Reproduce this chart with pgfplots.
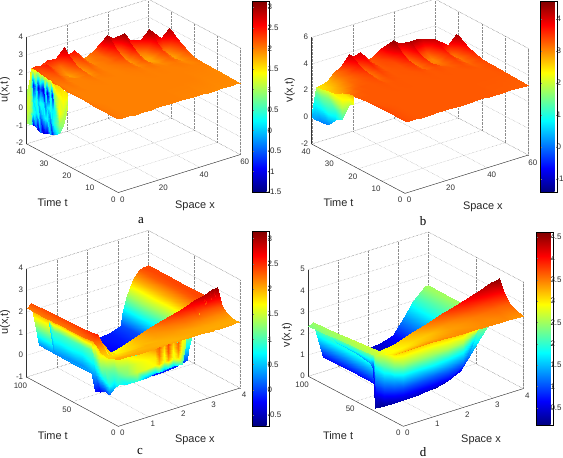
\documentclass[border=0pt]{standalone}
\usepackage{fontspec}
\setmainfont{Liberation Sans}
\newfontfamily\capfont{Liberation Serif}
\usepackage{pgfplots}
\pgfplotsset{compat=1.18}
\pgfplotsset{
 mat/.style={
  clip=false, colormap/jet,
  /pgf/number format/assume math mode=true,
  tick label style={font=\fontsize{8}{9}\selectfont,text=black!80},
  label style={font=\fontsize{11}{12}\selectfont,text=black!85},
  grid=major, grid style={densely dotted,black!45,line width=.35pt},
  axis line style={draw=none}, major tick style={draw=none},
  xlabel={Space x}, ylabel={Time t},
  xlabel style={at={(rel axis cs:.27,-.477,0)},anchor=center,rotate=0},
  ylabel style={at={(rel axis cs:-.433,.14,0)},anchor=center,rotate=0},
  zlabel style={at={(rel axis cs:-.178,1,.57)},anchor=center,rotate=0},
 },
 main/.style={surf,shader=interp,z buffer=sort,mesh/cols=#1},
 cur/.style={surf,shader=interp,mesh/cols=#1,point meta=\thisrowno{3}},
 cb/.style={colormap/jet,colorbar style={scale only axis,width=16.5bp,
   tick label style={font=\fontsize{8}{9}\selectfont,text=black!85},
   /pgf/number format/assume math mode=true,
   major tick length=1.5pt,tick align=inside,line width=.4pt,#1}},
}
\begin{document}
\begin{tikzpicture}
\path[use as bounding box] (0bp,0bp) rectangle (563bp,458bp);
% ---------- a
\begin{axis}[mat,anchor=origin,at={(118.3bp,301bp)},
 x={(2.033bp,.633bp)},y={(-2.292bp,1.217bp)},z={(0bp,17.78bp)},
 xmin=0,xmax=60,ymin=0,ymax=40,zmin=-2,zmax=4,
 xtick={0,20,40,60},ytick={0,10,...,40},ztick={-2,...,4},
 zlabel={u(x,t)},point meta min=-1.5,point meta max=3.3]
\draw[black!80] (axis cs:0,40,-2)--(axis cs:0,0,-2)--(axis cs:60,0,-2);
\draw[black!80] (axis cs:0,40,-2)--(axis cs:0,40,4);
\draw[densely dotted,black!45] (axis cs:0,40,4)--(axis cs:60,40,4)--(axis cs:60,0,4)--(axis cs:60,0,-2);
\addplot3[main=20] table[row sep=\\]{
0 0 2.15\\2 0 2.12\\5 0 2.1\\8 0 2.1\\12 0 2.1\\16 0 2.1\\18 0 2.1\\21 0 2.1\\25 0 2.1\\28 0 2.1\\31 0 2.1\\35 0 2.08\\38 0 2.08\\41 0 2.08\\44 0 2.06\\47 0 2.06\\51 0 2.05\\55 0 2.05\\59 0 2.05\\60 0 2.03\\
0 10 2.15\\2 10 2.12\\5 10 2.1\\8 10 2.1\\12 10 2.1\\16 10 2.1\\18 10 2.1\\21 10 2.1\\25 10 2.1\\28 10 2.1\\31 10 2.1\\35 10 2.1\\38 10 2.1\\41 10 2.1\\44 10 2.1\\47 10 2.1\\51 10 2.08\\55 10 2.08\\59 10 2.07\\60 10 2.05\\
0 16 2.15\\2 16 2.1\\5 16 2.1\\8 16 2.1\\12 16 2.1\\16 16 2.1\\18 16 2.1\\21 16 2.1\\25 16 2.1\\28 16 2.1\\31 16 2.1\\35 16 2.1\\38 16 2.1\\41 16 2.1\\44 16 2.1\\47 16 2.1\\51 16 2.1\\55 16 2.1\\59 16 2.11\\60 16 2.08\\
0 20 2.15\\2 20 2.1\\5 20 2.1\\8 20 2.1\\12 20 2.1\\16 20 2.1\\18 20 2.1\\21 20 2.1\\25 20 2.1\\28 20 2.1\\31 20 2.1\\35 20 2.11\\38 20 2.1\\41 20 2.11\\44 20 2.1\\47 20 2.1\\51 20 2.14\\55 20 2.05\\59 20 2.18\\60 20 2.14\\
0 23 2.15\\2 23 2.1\\5 23 2.12\\8 23 2.1\\12 23 2.1\\16 23 2.11\\18 23 2.1\\21 23 2.1\\25 23 2.1\\28 23 2.1\\31 23 2.11\\35 23 2.13\\38 23 2.1\\41 23 2.17\\44 23 2.1\\47 23 2.05\\51 23 2.25\\55 23 1.95\\59 23 2.3\\60 23 2.24\\
0 26 2.2\\2 26 2.12\\5 26 2.15\\8 26 2.1\\12 26 2.1\\16 26 2.15\\18 26 2.1\\21 26 2.13\\25 26 2.1\\28 26 2.1\\31 26 2.13\\35 26 2.2\\38 26 2.05\\41 26 2.3\\44 26 2\\47 26 1.95\\51 26 2.43\\55 26 1.9\\59 26 2.57\\60 26 2.48\\
0 28 2.2\\2 28 2.13\\5 28 2.19\\8 28 2.1\\12 28 2.1\\16 28 2.19\\18 28 2.05\\21 28 2.16\\25 28 2.1\\28 28 2.11\\31 28 2.15\\35 28 2.29\\38 28 1.95\\41 28 2.45\\44 28 1.9\\47 28 1.95\\51 28 2.65\\55 28 2\\59 28 2.82\\60 28 2.68\\
0 30 2.25\\2 30 2.16\\5 30 2.25\\8 30 2.12\\12 30 2\\16 30 2.26\\18 30 1.95\\21 30 2.2\\25 30 2.1\\28 30 2.12\\31 30 2.2\\35 30 2.45\\38 30 1.9\\41 30 2.7\\44 30 1.9\\47 30 2.1\\51 30 2.92\\55 30 2.7\\59 30 3.1\\60 30 2.9\\
0 32 2.3\\2 32 2.2\\5 32 2.34\\8 32 2.16\\12 32 1.95\\16 32 2.37\\18 32 1.9\\21 32 2.27\\25 32 2.1\\28 32 2.13\\31 32 2.2\\35 32 2.62\\38 32 1.95\\41 32 2.92\\44 32 2.1\\47 32 2.75\\51 32 3.2\\55 32 1.6\\59 32 1.6\\60 32 1.6\\
0 34 2.35\\2 34 2.26\\5 34 2.46\\8 34 2.22\\12 34 2.05\\16 34 2.52\\18 34 1.95\\21 34 2.36\\25 34 2.05\\28 34 2.15\\31 34 2.2\\35 34 2.88\\38 34 2.1\\41 34 3.2\\44 34 2.7\\47 34 1.6\\51 34 1.6\\55 34 1.6\\59 34 1.6\\60 34 1.6\\
0 36 2.4\\2 36 2.35\\5 36 2.6\\8 36 2.3\\12 36 2.2\\16 36 2.75\\18 36 2.1\\21 36 2.5\\25 36 2.05\\28 36 2.15\\31 36 2.25\\35 36 3.15\\38 36 2.9\\41 36 1.6\\44 36 1.6\\47 36 1.6\\51 36 1.6\\55 36 1.6\\59 36 1.6\\60 36 1.6\\
0 38 2.4\\2 38 2.45\\5 38 2.4\\8 38 2.58\\12 38 2.55\\16 38 3\\18 38 2.5\\21 38 2.65\\25 38 2\\28 38 2.15\\31 38 2.3\\35 38 1.6\\38 38 1.6\\41 38 1.6\\44 38 1.6\\47 38 1.6\\51 38 1.6\\55 38 1.6\\59 38 1.6\\60 38 1.6\\
};
\addplot3[cur=16] table[row sep=\\]{
0 22 2.1 1.7\\0 24 2.15 1.6\\0 26 2.2 1.7\\0 28 2.2 1.7\\0 29 2.2 1.5\\0 30 2.25 1.5\\0 31 2.25 1.3\\0 32 2.3 1.5\\0 33 2.3 1.2\\0 34 2.35 1.5\\0 35 2.4 1.2\\0 36 2.4 1.4\\0 37 2.4 1.6\\0 38 2.4 1.7\\0 39 1.5 1.3\\0 40 1.04 1.1\\
0 22 2 1.6\\0 24 1.5 1.5\\0 26 1.5 1.4\\0 28 1.5 .9\\0 29 1.5 -.8\\0 30 1.5 .3\\0 31 1.5 -1\\0 32 1.5 .2\\0 33 1.5 -1.1\\0 34 1.5 -.5\\0 35 1.5 -1\\0 36 1.5 .1\\0 37 1.5 -.8\\0 38 1.5 .8\\0 39 1.1 1.2\\0 40 .7 1.2\\
0 22 1.9 1.4\\0 24 .9 1.3\\0 26 .7 1.5\\0 28 .7 .3\\0 29 .7 .2\\0 30 .7 .4\\0 31 .7 .2\\0 32 .7 -.3\\0 33 .7 .3\\0 34 .7 .4\\0 35 .7 .1\\0 36 .7 .5\\0 37 .7 .2\\0 38 .7 1\\0 39 .5 1.3\\0 40 .2 1.3\\
0 22 1.7 1.2\\0 24 .5 1.1\\0 26 0 1\\0 28 0 .5\\0 29 0 .2\\0 30 0 -.3\\0 31 0 .3\\0 32 0 .3\\0 33 0 .1\\0 34 0 -.3\\0 35 0 .4\\0 36 0 .2\\0 37 0 .5\\0 38 0 1\\0 39 0 1.2\\0 40 -.3 1.2\\
0 22 1.5 1.4\\0 24 .1 1\\0 26 -.45 .6\\0 28 -.67 -.2\\0 29 -.7 -.8\\0 30 -.75 0\\0 31 -.8 -1\\0 32 -.85 -.9\\0 33 -.92 -1.2\\0 34 -.9 -.3\\0 35 -.85 -1.2\\0 36 -.8 -.4\\0 37 -.73 -1\\0 38 -.75 .7\\0 39 -.8 .9\\0 40 -.84 1.1\\
};
\end{axis}
% ---------- b
\begin{axis}[mat,anchor=origin,at={(405bp,291.3bp)},
 x={(2.056bp,.639bp)},y={(-2.333bp,1.233bp)},z={(0bp,13.33bp)},
 xmin=0,xmax=60,ymin=0,ymax=40,zmin=-2,zmax=6,
 xtick={0,20,40,60},ytick={0,10,...,40},ztick={-2,0,...,6},
 zlabel={v(x,t)},point meta min=-1.4,point meta max=4.56]
\draw[black!80] (axis cs:0,40,-2)--(axis cs:0,0,-2)--(axis cs:60,0,-2);
\draw[black!80] (axis cs:0,40,-2)--(axis cs:0,40,6);
\draw[densely dotted,black!45] (axis cs:0,40,6)--(axis cs:60,40,6)--(axis cs:60,0,6)--(axis cs:60,0,-2);
\addplot3[main=20] table[row sep=\\]{
0 0 3.4\\2 0 3.35\\5 0 3.32\\8 0 3.3\\12 0 3.3\\16 0 3.3\\18 0 3.3\\21 0 3.3\\25 0 3.3\\28 0 3.3\\31 0 3.3\\35 0 3.3\\38 0 3.3\\41 0 3.3\\44 0 3.3\\47 0 3.28\\51 0 3.28\\55 0 3.27\\59 0 3.26\\60 0 3.25\\
0 10 3.4\\2 10 3.35\\5 10 3.32\\8 10 3.3\\12 10 3.3\\16 10 3.3\\18 10 3.3\\21 10 3.3\\25 10 3.3\\28 10 3.3\\31 10 3.3\\35 10 3.3\\38 10 3.3\\41 10 3.3\\44 10 3.3\\47 10 3.3\\51 10 3.3\\55 10 3.3\\59 10 3.31\\60 10 3.3\\
0 16 3.35\\2 16 3.3\\5 16 3.3\\8 16 3.3\\12 16 3.3\\16 16 3.3\\18 16 3.3\\21 16 3.3\\25 16 3.3\\28 16 3.3\\31 16 3.3\\35 16 3.3\\38 16 3.3\\41 16 3.3\\44 16 3.3\\47 16 3.3\\51 16 3.3\\55 16 3.3\\59 16 3.36\\60 16 3.33\\
0 20 3.3\\2 20 3.3\\5 20 3.3\\8 20 3.3\\12 20 3.3\\16 20 3.31\\18 20 3.3\\21 20 3.31\\25 20 3.3\\28 20 3.3\\31 20 3.3\\35 20 3.31\\38 20 3.3\\41 20 3.31\\44 20 3.3\\47 20 3.3\\51 20 3.35\\55 20 3.25\\59 20 3.41\\60 20 3.39\\
0 23 3.2\\2 23 3.25\\5 23 3.3\\8 23 3.3\\12 23 3.3\\16 23 3.32\\18 23 3.3\\21 23 3.31\\25 23 3.3\\28 23 3.3\\31 23 3.31\\35 23 3.33\\38 23 3.3\\41 23 3.35\\44 23 3.3\\47 23 3.25\\51 23 3.42\\55 23 3.15\\59 23 3.55\\60 23 3.5\\
0 26 3\\2 26 3.1\\5 26 3.25\\8 26 3.3\\12 26 3.3\\16 26 3.35\\18 26 3.25\\21 26 3.34\\25 26 3.3\\28 26 3.31\\31 26 3.31\\35 26 3.42\\38 26 3.2\\41 26 3.48\\44 26 3.15\\47 26 3.15\\51 26 3.57\\55 26 3.05\\59 26 3.79\\60 26 3.72\\
0 28 2.8\\2 28 2.95\\5 28 3.15\\8 28 3.25\\12 28 3.3\\16 28 3.39\\18 28 3.2\\21 28 3.38\\25 28 3.3\\28 28 3.31\\31 28 3.33\\35 28 3.52\\38 28 3.1\\41 28 3.6\\44 28 3.05\\47 28 3.05\\51 28 3.7\\55 28 3.1\\59 28 4.06\\60 28 3.95\\
0 30 2.7\\2 30 2.85\\5 30 3\\8 30 3.2\\12 30 3.3\\16 30 3.46\\18 30 3.1\\21 30 3.44\\25 30 3.3\\28 30 3.32\\31 30 3.35\\35 30 3.66\\38 30 3.05\\41 30 3.77\\44 30 3.1\\47 30 3.05\\51 30 3.9\\55 30 3.7\\59 30 4.35\\60 30 4.2\\
0 32 2.6\\2 32 2.75\\5 32 2.95\\8 32 3.15\\12 32 3.32\\16 32 3.57\\18 32 3.05\\21 32 3.54\\25 32 3.3\\28 32 3.35\\31 32 3.39\\35 32 3.86\\38 32 3.1\\41 32 3.99\\44 32 3.4\\47 32 3.3\\51 32 4.15\\55 32 2\\59 32 2\\60 32 2\\
0 34 2.55\\2 34 2.65\\5 34 2.85\\8 34 3.1\\12 34 3.34\\16 34 3.72\\18 34 3.1\\21 34 3.68\\25 34 3.3\\28 34 3.37\\31 34 3.46\\35 34 4.16\\38 34 3.4\\41 34 4.3\\44 34 4.3\\47 34 4.15\\51 34 2\\55 34 2\\59 34 2\\60 34 2\\
0 36 2.5\\2 36 2.55\\5 36 2.8\\8 36 3.1\\12 36 3.35\\16 36 3.95\\18 36 3.3\\21 36 3.88\\25 36 3.3\\28 36 3.4\\31 36 3.66\\35 36 4.5\\38 36 4.1\\41 36 2\\44 36 2\\47 36 2\\51 36 2\\55 36 2\\59 36 2\\60 36 2\\
0 38 2.5\\2 38 2.5\\5 38 2.7\\8 38 3.1\\12 38 3.5\\16 38 4.2\\18 38 3.9\\21 38 4.1\\25 38 3.3\\28 38 3.5\\31 38 3.8\\35 38 2\\38 38 2\\41 38 2\\44 38 2\\47 38 2\\51 38 2\\55 38 2\\59 38 2\\60 38 2\\
};
\addplot3[cur=9] table[row sep=\\]{
0 22 3.3 2.8\\0 24 3.25 2.7\\0 27 3.05 2.5\\0 30 2.7 2.4\\0 33 2.6 2.2\\0 36 2.5 2.1\\0 38 2.5 2\\0 39 1.4 1\\0 40 .5 .7\\
0 22 3.1 2.6\\0 24 2.9 2.4\\0 27 2.5 2.3\\0 30 2.2 2\\0 33 2.1 1.6\\0 36 2 1.5\\0 38 2 1.4\\0 39 1 .8\\0 40 .4 .6\\
0 22 2.9 2.4\\0 24 2.7 2.2\\0 27 1.8 1.8\\0 30 1.4 1.1\\0 33 1 .9\\0 36 1 .8\\0 38 .9 .7\\0 39 .5 .5\\0 40 .25 .4\\
0 22 2.7 2.2\\0 24 2.5 2\\0 27 1.1 1.2\\0 30 .72 .6\\0 33 .08 .1\\0 36 0 .1\\0 38 -.02 .2\\0 39 0 .3\\0 40 .05 .4\\
};
\end{axis}
% ---------- c
\begin{axis}[mat,anchor=origin,at={(118.3bp,53.3bp)},
 x={(30.42bp,9.58bp)},y={(-.9167bp,.493bp)},z={(0bp,21.67bp)},
 xmin=0,xmax=4,ymin=0,ymax=100,zmin=-1,zmax=4,
 xtick={0,...,4},ytick={0,50,100},ztick={-1,...,4},
 zlabel={u(x,t)},point meta min=-.72,point meta max=3.15]
\draw[black!80] (axis cs:0,100,-1)--(axis cs:0,0,-1)--(axis cs:4,0,-1);
\draw[black!80] (axis cs:0,100,-1)--(axis cs:0,100,4);
\draw[densely dotted,black!45] (axis cs:0,100,4)--(axis cs:4,100,4)--(axis cs:4,0,4)--(axis cs:4,0,-1);
\addplot3[main=15] table[row sep=\\]{
0 0 2.05\\.15 0 2.05\\.4 0 2.05\\.8 0 2.05\\1.2 0 2.05\\1.7 0 2.05\\2.2 0 2.05\\2.7 0 2.05\\3.1 0 2.05\\3.15 0 2.05\\3.3 0 2.05\\3.5 0 2.05\\3.7 0 2.05\\3.84 0 2.05\\4 0 2.05\\
0 5 2\\.15 5 2\\.4 5 2\\.8 5 2\\1.2 5 2\\1.7 5 2\\2.2 5 2\\2.7 5 2.02\\3.1 5 2.02\\3.15 5 2.02\\3.3 5 2.02\\3.5 5 2.02\\3.7 5 2.02\\3.84 5 2.02\\4 5 2.02\\
0 10 1.9\\.15 10 1.9\\.4 10 1.9\\.8 10 1.95\\1.2 10 2\\1.7 10 2\\2.2 10 2.05\\2.7 10 2.05\\3.1 10 2.05\\3.15 10 2.05\\3.3 10 2.05\\3.5 10 2.05\\3.7 10 2.05\\3.84 10 2.05\\4 10 2.05\\
0 15 1.85\\.15 15 1.85\\.4 15 1.8\\.8 15 1.85\\1.2 15 1.95\\1.7 15 2.05\\2.2 15 2.1\\2.7 15 2.15\\3.1 15 2.15\\3.15 15 2.15\\3.3 15 2.15\\3.5 15 2.15\\3.7 15 2.15\\3.84 15 2.15\\4 15 2.15\\
0 20 1.95\\.15 20 2\\.4 20 1.7\\.8 20 1.8\\1.2 20 1.95\\1.7 20 2.1\\2.2 20 2.2\\2.7 20 2.3\\3.1 20 2.35\\3.15 20 2.35\\3.3 20 2.35\\3.5 20 2.35\\3.7 20 2.35\\3.84 20 2.35\\4 20 2.35\\
0 25 2.2\\.15 25 2.3\\.4 25 1.58\\.8 25 1.74\\1.2 25 1.95\\1.7 25 2.16\\2.2 25 2.37\\2.7 25 2.58\\3.1 25 2.75\\3.15 25 2.77\\3.3 25 2.84\\3.5 25 2.92\\3.7 25 3\\3.84 25 3.06\\4 25 3.1\\
0 28 2.3\\.15 28 2.55\\.4 28 .6\\.8 28 .1\\1.2 28 -.1\\1.7 28 -.15\\2.2 28 -.15\\2.7 28 -.1\\3.1 28 .05\\3.15 28 .5\\3.3 28 1.34\\3.5 28 2\\3.7 28 2.32\\3.84 28 2.4\\4 28 2.5\\
0 35 2.25\\.15 35 2.5\\.4 35 .3\\.8 35 -.1\\1.2 35 -.2\\1.7 35 -.2\\2.2 35 -.2\\2.7 35 -.15\\3.1 35 .05\\3.15 35 .5\\3.3 35 1.34\\3.5 35 2\\3.7 35 2.32\\3.84 35 2.4\\4 35 2.4\\
0 45 2.2\\.15 45 2.45\\.4 45 .3\\.8 45 -.1\\1.2 45 -.25\\1.7 45 -.15\\2.2 45 -.25\\2.7 45 -.15\\3.1 45 .05\\3.15 45 .5\\3.3 45 1.34\\3.5 45 2\\3.7 45 2.32\\3.84 45 2.4\\4 45 2.4\\
0 60 2.2\\.15 60 2.42\\.4 60 .3\\.8 60 -.1\\1.2 60 -.15\\1.7 60 -.25\\2.2 60 -.15\\2.7 60 -.25\\3.1 60 .05\\3.15 60 .5\\3.3 60 1.34\\3.5 60 2\\3.7 60 2.32\\3.84 60 2.4\\4 60 2.4\\
0 80 2.2\\.15 80 2.4\\.4 80 .3\\.8 80 -.1\\1.2 80 -.25\\1.7 80 -.15\\2.2 80 -.25\\2.7 80 -.15\\3.1 80 .05\\3.15 80 .5\\3.3 80 1.34\\3.5 80 2\\3.7 80 2.32\\3.84 80 2.4\\4 80 2.4\\
0 100 2.2\\.15 100 2.37\\.4 100 .3\\.8 100 -.1\\1.2 100 -.2\\1.7 100 -.2\\2.2 100 -.2\\2.7 100 -.15\\3.1 100 .05\\3.15 100 .5\\3.3 100 1.34\\3.5 100 2\\3.7 100 2.32\\3.84 100 2.4\\4 100 2.4\\
};
\addplot3[cur=23] table[row sep=\\]{
0 76 2.2 1.9\\0 70 2.2 1.9\\0 65 2.2 1.9\\0 50 2.2 1.9\\0 40 2.2 2\\0 30 2.28 2\\0 25 2.2 1.8\\0 20 1.95 1.8\\0 15 1.85 1.7\\0 10 1.9 1.6\\0 5 2 1.6\\0 0 2.05 1.6\\.3 0 2.05 1.7\\.6 0 2.05 1.8\\.9 0 2.05 1.9\\1.2 0 2.05 2.1\\1.35 0 2.05 2.3\\1.5 0 2.05 1.9\\1.65 0 2.05 2.4\\1.8 0 2.05 1.9\\1.95 0 2.05 2.3\\2.1 0 2.05 1.7\\2.2 0 2.05 1.7\\
0 76 2.1 1.3\\0 70 1.75 1\\0 65 1.78 1\\0 50 1.8 1\\0 40 1.82 1\\0 30 1.85 1.1\\0 25 1.5 1\\0 20 1.36 1.3\\0 15 1.33 1.2\\0 10 1.35 1.1\\0 5 1.56 1.2\\0 0 1.67 1.3\\.3 0 1.65 1.4\\.6 0 1.64 1.6\\.9 0 1.65 1.7\\1.2 0 1.68 1.8\\1.35 0 1.68 2.2\\1.5 0 1.68 1.7\\1.65 0 1.7 2.3\\1.8 0 1.7 1.7\\1.95 0 1.7 2.2\\2.1 0 1.7 1.6\\2.2 0 1.97 1.6\\
0 76 2.05 1\\0 70 1.31 .7\\0 65 1.33 .7\\0 50 1.35 .7\\0 40 1.37 .7\\0 30 1.4 .8\\0 25 .83 .4\\0 20 .78 .6\\0 15 .72 .7\\0 10 .68 .8\\0 5 1.1 .9\\0 0 1.3 1\\.3 0 1.25 1.2\\.6 0 1.23 1.5\\.9 0 1.25 1.6\\1.2 0 1.3 1.7\\1.35 0 1.3 1.9\\1.5 0 1.3 1.6\\1.65 0 1.33 2\\1.8 0 1.33 1.6\\1.95 0 1.33 1.9\\2.1 0 1.33 1.4\\2.2 0 1.88 1.5\\
0 76 2 .8\\0 70 .78 .3\\0 65 .83 .3\\0 50 .86 .3\\0 40 .86 .3\\0 30 .86 .4\\0 25 .05 -.2\\0 20 .15 -.3\\0 15 .27 0\\0 10 .23 .1\\0 5 .66 .5\\0 0 .92 .8\\.3 0 .82 .7\\.6 0 .81 .9\\.9 0 .85 .4\\1.2 0 .93 .5\\1.35 0 .92 .8\\1.5 0 .93 .4\\1.65 0 .98 .7\\1.8 0 .97 .5\\1.95 0 .96 .8\\2.1 0 .96 .9\\2.2 0 1.8 1.4\\
};
\end{axis}
% ---------- d
\begin{axis}[mat,anchor=origin,at={(403.3bp,31.7bp)},
 x={(30bp,9.42bp)},y={(-.95bp,.5bp)},z={(0bp,21.33bp)},
 xmin=0,xmax=4,ymin=0,ymax=100,zmin=0,zmax=5,
 xtick={0,...,4},ytick={0,50,100},ztick={0,...,5},
 zlabel={v(x,t)},zlabel style={at={(rel axis cs:-.178,1,.45)}},point meta min=.1,point meta max=4.62]
\draw[black!80] (axis cs:0,100,0)--(axis cs:0,0,0)--(axis cs:4,0,0);
\draw[black!80] (axis cs:0,100,0)--(axis cs:0,100,5);
\draw[densely dotted,black!45] (axis cs:0,100,5)--(axis cs:4,100,5)--(axis cs:4,0,5)--(axis cs:4,0,0);
\addplot3[main=13] table[row sep=\\]{
0 0 3.5\\.15 0 3.5\\.5 0 3.5\\1 0 3.5\\1.5 0 3.5\\2 0 3.45\\2.4 0 3.45\\2.83 0 3.45\\3.2 0 3.45\\3.5 0 3.45\\3.75 0 3.4\\3.9 0 3.4\\4 0 3.4\\
0 8 3.2\\.15 8 3.2\\.5 8 3.25\\1 8 3.3\\1.5 8 3.35\\2 8 3.4\\2.4 8 3.4\\2.83 8 3.45\\3.2 8 3.45\\3.5 8 3.5\\3.75 8 3.5\\3.9 8 3.5\\4 8 3.52\\
0 15 3\\.15 15 3\\.5 15 3.05\\1 15 3.15\\1.5 15 3.25\\2 15 3.35\\2.4 15 3.4\\2.83 15 3.5\\3.2 15 3.55\\3.5 15 3.6\\3.75 15 3.62\\3.9 15 3.65\\4 15 3.66\\
0 20 2.9\\.15 20 2.9\\.5 20 2.95\\1 20 3.1\\1.5 20 3.2\\2 20 3.4\\2.4 20 3.5\\2.83 20 3.65\\3.2 20 3.75\\3.5 20 3.85\\3.75 20 3.92\\3.9 20 3.96\\4 20 4\\
0 26 2.75\\.15 26 2.9\\.5 26 3.05\\1 26 3.27\\1.5 26 3.49\\2 26 3.71\\2.4 26 3.89\\2.83 26 4.08\\3.2 26 4.24\\3.5 26 4.37\\3.75 26 4.48\\3.9 26 4.55\\4 26 4.58\\
0 30 2.6\\.15 30 2.75\\.5 30 .9\\1 30 .35\\1.5 30 .2\\2 30 .2\\2.4 30 .35\\2.83 30 .65\\3.2 30 1.3\\3.5 30 1.9\\3.75 30 2.3\\3.9 30 2.45\\4 30 2.9\\
0 40 2.55\\.15 40 2.7\\.5 40 .7\\1 40 .3\\1.5 40 .15\\2 40 .2\\2.4 40 .35\\2.83 40 .7\\3.2 40 1.35\\3.5 40 1.97\\3.75 40 2.35\\3.9 40 2.5\\4 40 2.45\\
0 55 2.5\\.15 55 2.65\\.5 55 .7\\1 55 .3\\1.5 55 .15\\2 55 .2\\2.4 55 .4\\2.83 55 .7\\3.2 55 1.35\\3.5 55 1.97\\3.75 55 2.35\\3.9 55 2.5\\4 55 2.5\\
0 75 2.42\\.15 75 2.55\\.5 75 .7\\1 75 .3\\1.5 75 .2\\2 75 .3\\2.4 75 .45\\2.83 75 .7\\3.2 75 1.35\\3.5 75 1.97\\3.75 75 2.35\\3.9 75 2.5\\4 75 2.5\\
0 100 2.35\\.15 100 2.5\\.5 100 .7\\1 100 .3\\1.5 100 .2\\2 100 .44\\2.4 100 .5\\2.83 100 .7\\3.2 100 1.35\\3.5 100 1.97\\3.75 100 2.35\\3.9 100 2.5\\4 100 2.5\\
};
\addplot3[cur=15] table[row sep=\\]{
0 75 2.42 2.2\\0 70 2.43 2.2\\0 50 2.48 2.2\\0 35 2.57 2.3\\0 32 2.6 2.4\\0 30 2.6 2.6\\0 20 2.9 2.8\\0 10 3.1 3\\0 0 3.5 3.1\\.5 0 3.5 3.1\\1 0 3.5 3.1\\1.5 0 3.5 3.1\\2 0 3.45 3.1\\2.3 0 3.45 3\\2.5 0 3.45 3\\
0 75 2.41 2.2\\0 70 2.39 2.1\\0 50 2.43 2.1\\0 35 2.47 2.1\\0 32 2.45 2\\0 30 2.1 1.8\\0 20 2.29 2.1\\0 10 2.54 2.3\\0 0 2.94 2.5\\.5 0 2.94 2.5\\1 0 2.97 2.5\\1.5 0 3 2.6\\2 0 3.09 2.6\\2.3 0 3.29 2.6\\2.5 0 3.44 2.9\\
0 75 2.4 2.1\\0 70 2.35 2\\0 50 2.38 1.9\\0 35 2.36 1.9\\0 32 2.3 1.6\\0 30 1.45 1.2\\0 20 1.69 1.4\\0 10 1.98 1.5\\0 0 2.38 1.7\\.5 0 2.39 1.7\\1 0 2.43 1.8\\1.5 0 2.51 1.8\\2 0 2.73 2\\2.3 0 3.13 2.1\\2.5 0 3.43 2.7\\
0 75 2.39 2\\0 70 2.31 1.9\\0 50 2.33 1.7\\0 35 2.25 1.6\\0 32 2.15 1.2\\0 30 .8 .6\\0 20 1.08 .8\\0 10 1.42 .9\\0 0 1.81 1\\.5 0 1.83 1\\1 0 1.9 1.1\\1.5 0 2.02 1.2\\2 0 2.36 1.5\\2.3 0 2.96 1.8\\2.5 0 3.41 2.5\\
0 75 2.38 2\\0 70 2.27 1.7\\0 50 2.27 1.5\\0 35 2.14 1.3\\0 32 2 .9\\0 30 .15 .2\\0 20 .47 .2\\0 10 .86 .3\\0 0 1.25 .4\\.5 0 1.27 .4\\1 0 1.36 .5\\1.5 0 1.52 .6\\2 0 2 1\\2.3 0 2.8 1.5\\2.5 0 3.4 2.3\\
};
\end{axis}
% ---------- colour bars
\pgfplotscolorbardrawstandalone[cb={at={(244bp,266bp)},anchor=south west,height=191bp,
  ytick={-1.5,-1,...,3},yticklabel style={xshift=-5bp}},point meta min=-1.5,point meta max=3.15]
\pgfplotscolorbardrawstandalone[cb={at={(532bp,266bp)},anchor=south west,height=191bp,
  ytick={-1,0,...,4},yticklabel style={xshift=1bp}},point meta min=-1.4,point meta max=4.56]
\pgfplotscolorbardrawstandalone[cb={at={(244bp,32bp)},anchor=south west,height=195bp,
  ytick={-.5,0,...,3},yticklabel style={xshift=-1bp}},point meta min=-.72,point meta max=3.15]
\pgfplotscolorbardrawstandalone[cb={at={(528bp,33bp)},anchor=south west,height=193bp,
  ytick={.5,1,...,4.5},yticklabel style={xshift=-1bp}},point meta min=.1,point meta max=4.62]
% ---------- captions
\node[font=\capfont\fontsize{13}{14}\selectfont] at (141bp,237bp) {a};
\node[font=\capfont\fontsize{13}{14}\selectfont] at (423bp,237bp) {b};
\node[font=\capfont\fontsize{13}{14}\selectfont] at (140bp,6bp) {c};
\node[font=\capfont\fontsize{13}{14}\selectfont] at (423bp,6bp) {d};
\end{tikzpicture}
\end{document}
